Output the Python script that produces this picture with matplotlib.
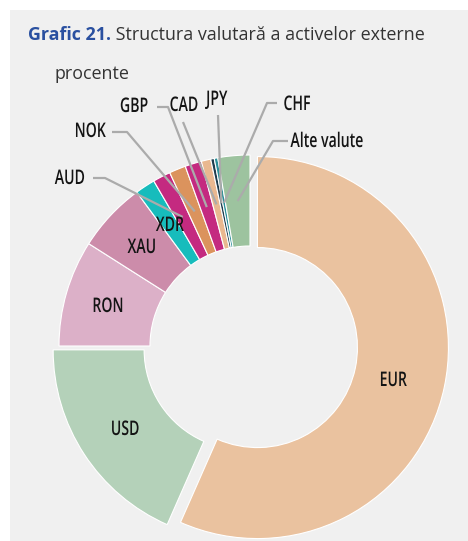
import numpy as np
import matplotlib
matplotlib.use('Agg')
import matplotlib.pyplot as plt
from matplotlib.patches import Rectangle
from matplotlib.patheffects import AbstractPathEffect
from matplotlib.transforms import Affine2D

# Data (percent shares)
currencies = ['EUR', 'USD', 'RON', 'XAU', 'XDR', 'AUD', 'NOK', 'GBP',
              'CAD', 'JPY', 'CHF', 'Alte valute']
shares = [56.6, 18.4, 9.0, 5.9, 1.7, 1.5, 1.4, 1.4, 0.8, 0.3, 0.3, 2.7]
colors = ['#eac29f', '#b4d1b9', '#dcb0c8', '#cc8caa', '#17bcbc', '#c42a80',
          '#db935d', '#c42a80', '#e9b890', '#1f3d4e', '#2a8f99', '#9dc39f']
explode_px = [7.6, 7, 0, 0, 0, 0, 0, 0, 0, 0, 0, 0]

title_bold = 'Grafic 21.'
title_rest = ' Structura valutară a activelor externe'
subtitle = 'procente'

W, H = 468, 541
TITLE_FONT = ['Open Sans', 'DejaVu Sans']


class Squeeze(AbstractPathEffect):
    """draw text narrower (no condensed face is installed)"""
    def __init__(self, sx):
        super().__init__()
        self.sx = sx

    def draw_path(self, renderer, gc, tpath, affine, rgbFace=None):
        ext = affine.transform_path(tpath).get_extents()
        xc = (ext.x0 + ext.x1) / 2
        squeeze = Affine2D().translate(-xc, 0).scale(self.sx, 1).translate(xc, 0)
        renderer.draw_path(gc, tpath, affine + squeeze, rgbFace)


LABEL_PROPS = dict(family=['Open Sans', 'DejaVu Sans'], fontsize=14.5, fontweight='semibold',
                   color='#141414', path_effects=[Squeeze(0.70)])

# pie geometry in pixel units (y up)
cx, cy = 250, H - 346
R_OUT, R_IN = 191, 100

fig = plt.figure(figsize=(W / 100, H / 100), dpi=100)
fig.patch.set_facecolor('white')

ax = fig.add_axes([0, 0, 1, 1])
ax.set_facecolor('none')
# grey panel behind the chart
ax.add_patch(Rectangle((10, 0), W, H - 10, facecolor='#f0f0f0', edgecolor='none', zorder=0))

wedges, _ = ax.pie(shares, colors=colors, startangle=90, counterclock=False,
                   radius=R_OUT, center=(cx, cy), explode=explode_px,
                   wedgeprops=dict(width=R_OUT - R_IN, edgecolor='white', linewidth=0.8, zorder=2))
ax.set_xlim(0, W)
ax.set_ylim(0, H)
ax.set_aspect('equal')
ax.axis('off')


def mid_point(w, frac=0.5):
    ang = np.deg2rad((w.theta1 + w.theta2) / 2)
    r = R_IN + (R_OUT - R_IN) * frac
    x0, y0 = w.center
    return x0 + r * np.cos(ang), y0 + r * np.sin(ang)


# labels placed inside the big segments (pixel positions, y from top)
inside = {'EUR': (393, 381), 'USD': (125, 430), 'RON': (108, 307),
          'XAU': (142, 248), 'XDR': (170, 226)}
for name, (x, y) in inside.items():
    ax.text(x, H - y, name, ha='center', va='center', zorder=5, **LABEL_PROPS)

# outside labels with leader lines: text pos, line start, elbow
outside = {
    'AUD': ((70, 179), (93, 178), (105, 178)),
    'NOK': ((90, 132), (112, 132), (127, 132)),
    'GBP': ((134, 107), (157, 107), (168, 107)),
    'CAD': ((184, 106), (183, 122), (183, 122)),
    'JPY': ((217, 100), (218, 115), (218, 115)),
    'CHF': ((297, 105), (277, 103), (267, 103)),
    'Alte valute': ((327, 142), (288, 141), (273, 141)),
}
for name, (tpos, start, elbow) in outside.items():
    w = wedges[currencies.index(name)]
    ex, ey = mid_point(w)
    ax.plot([start[0], elbow[0], ex], [H - start[1], H - elbow[1], ey],
            color='#ababab', lw=1.6, solid_capstyle='butt', zorder=4)
    ax.text(tpos[0], H - tpos[1], name, ha='center', va='center', zorder=5, **LABEL_PROPS)

# title
t1 = fig.text(28 / W, 1 - 40 / H, title_bold, fontsize=12.9, fontweight='bold',
              color='#2a50a0', family=TITLE_FONT)
fig.canvas.draw()
bb = t1.get_window_extent()
fig.text(bb.x1 / W, 1 - 40 / H, title_rest, fontsize=12.9, color='#333333',
         family=TITLE_FONT)
fig.text(55 / W, 1 - 79 / H, subtitle, fontsize=12.9, color='#333333',
         family=TITLE_FONT)

fig.savefig('out.png', dpi=100, facecolor=fig.get_facecolor())
